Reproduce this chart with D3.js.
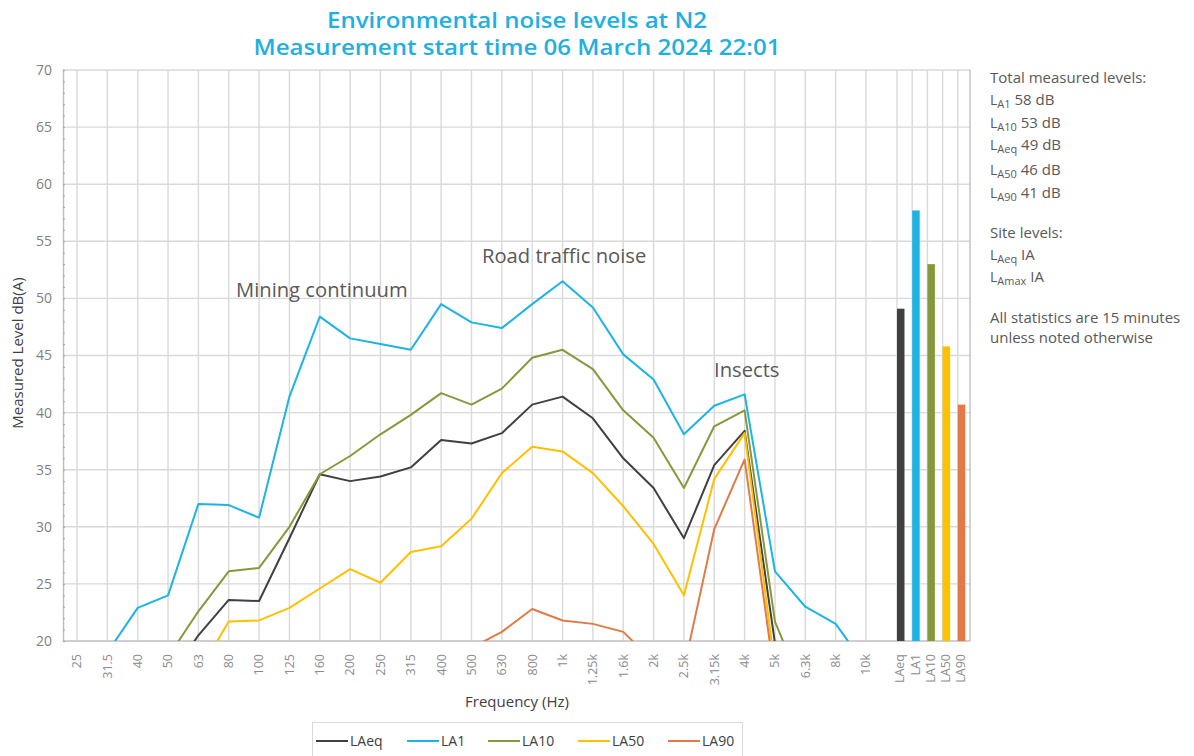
<!DOCTYPE html>
<html>
<head>
<meta charset="utf-8">
<script src="https://cdn.jsdelivr.net/npm/d3@7"></script>
<style>
  body { margin: 0; background: #fff; }
  svg { display: block; font-family: 'Open Sans', sans-serif; }
</style>
</head>
<body>
<svg id="chart" width="1194" height="756"></svg>
<script>
// one-third octave bands
const freqLabels = ['25', '31.5', '40', '50', '63', '80', '100', '125', '160', '200', '250', '315', '400',
  '500', '630', '800', '1k', '1.25k', '1.6k', '2k', '2.5k', '3.15k', '4k', '5k', '6.3k', '8k', '10k'];
const statLabels = ['LAeq', 'LA1', 'LA10', 'LA50', 'LA90'];

const laeq = [14, 14.5, 15.5, 16.6, 20.5, 23.6, 23.5, 29.0, 34.6, 34.0, 34.4, 35.2, 37.6,
  37.3, 38.2, 40.7, 41.4, 39.5, 36.0, 33.4, 29.0, 35.4, 38.4, 19.8, 15.5, 14, 12];
const la1 = [17.5, 19.0, 22.9, 24.0, 32.0, 31.9, 30.8, 41.4, 48.4, 46.5, 46.0, 45.5, 49.5,
  47.9, 47.4, 49.5, 51.5, 49.2, 45.1, 42.9, 38.1, 40.6, 41.6, 26.1, 23.0, 21.5, 17.8];
const la10 = [15, 16, 17, 18.6, 22.6, 26.1, 26.4, 30.0, 34.6, 36.2, 38.1, 39.8, 41.7,
  40.7, 42.1, 44.8, 45.5, 43.8, 40.2, 37.8, 33.4, 38.8, 40.2, 21.7, 15.3, 14.5, 13];
const la50 = [12, 13, 14, 15.5, 17.2, 21.7, 21.8, 22.9, 24.6, 26.3, 25.1, 27.8, 28.3,
  30.7, 34.7, 37.0, 36.6, 34.7, 31.8, 28.5, 24.0, 34.2, 38.2, 17.7, 12.5, 11.5, 10.5];
const la90 = [10, 10.5, 11, 11.5, 12.5, 14, 14.5, 15.5, 16.5, 17.5, 17.5, 18, 18.5,
  19.4, 20.8, 22.8, 21.8, 21.5, 20.8, 18.2, 17.6, 29.8, 35.9, 16.6, 11.5, 10.5, 9.5];

// overall levels, drawn as bars on the right
const totals = [49.1, 57.7, 53.0, 45.8, 40.7];
const yTicks = [20, 25, 30, 35, 40, 45, 50, 55, 60, 65, 70];

const seriesColors = ['#404040', '#1cb4e3', '#85993c', '#ffc000', '#e07b47'];
const series = [
  { id: 'LAeq', values: laeq },
  { id: 'LA1', values: la1 },
  { id: 'LA10', values: la10 },
  { id: 'LA50', values: la50 },
  { id: 'LA90', values: la90 }
];

const plot = { left: 63, right: 970, top: 70, bottom: 641 };
const svg = d3.select('#chart');

const x = d3.scalePoint().domain(freqLabels).range([77, 866]);
const xs = d3.scaleBand().domain(statLabels).range([897, 973]);
const y = d3.scaleLinear().domain([20, 70]).range([plot.bottom, plot.top]);
const color = d3.scaleOrdinal().domain(statLabels).range(seriesColors);

svg.append('defs').append('clipPath').attr('id', 'plot-clip')
  .append('rect')
  .attr('x', plot.left)
  .attr('y', plot.top)
  .attr('width', plot.right - plot.left)
  .attr('height', plot.bottom - plot.top);

// title
const title = svg.append('g')
  .attr('fill', '#1eb0e0')
  .attr('font-weight', 600)
  .attr('font-size', 21)
  .attr('text-anchor', 'middle');
title.append('text').attr('x', 517).attr('y', 28)
  .attr('textLength', 380).attr('lengthAdjust', 'spacingAndGlyphs')
  .text('Environmental noise levels at N2');
title.append('text').attr('x', 517).attr('y', 55)
  .attr('textLength', 527).attr('lengthAdjust', 'spacingAndGlyphs')
  .text('Measurement start time 06 March 2024 22:01');

// grid
const grid = svg.append('g').attr('stroke', '#d9d9d9').attr('stroke-width', 1.4);
grid.selectAll('.hgrid')
  .data(yTicks.slice(1))
  .enter().append('line')
  .attr('x1', plot.left).attr('x2', plot.right)
  .attr('y1', d => y(d)).attr('y2', d => y(d));
grid.selectAll('.vgrid')
  .data(freqLabels)
  .enter().append('line')
  .attr('x1', d => x(d)).attr('x2', d => x(d))
  .attr('y1', plot.top).attr('y2', plot.bottom);
grid.selectAll('.vgrid2')
  .data(statLabels)
  .enter().append('line')
  .attr('x1', d => xs(d)).attr('x2', d => xs(d))
  .attr('y1', plot.top).attr('y2', plot.bottom);

// frame
svg.append('line')
  .attr('x1', plot.right).attr('x2', plot.right)
  .attr('y1', plot.top).attr('y2', plot.bottom)
  .attr('stroke', '#c4c4c4').attr('stroke-width', 1.5);
svg.append('line')
  .attr('x1', plot.left).attr('x2', plot.right)
  .attr('y1', plot.bottom).attr('y2', plot.bottom)
  .attr('stroke', '#bfbfbf').attr('stroke-width', 1.5);

// y axis with minor ticks inside
const yAxis = svg.append('g')
  .attr('transform', `translate(${plot.left},0)`)
  .call(d3.axisRight(y).tickValues(d3.range(20, 71, 1)).tickSize(2).tickFormat(''));
yAxis.select('.domain').attr('stroke', '#bfbfbf').attr('stroke-width', 1.5);
yAxis.selectAll('.tick line').attr('stroke', '#a6a6a6');

svg.append('g')
  .attr('font-size', 14)
  .attr('fill', '#7f7f7f')
  .attr('text-anchor', 'end')
  .selectAll('text')
  .data(yTicks)
  .enter().append('text')
  .attr('x', 52)
  .attr('y', d => y(d))
  .attr('dy', '0.35em')
  .text(d => d);

svg.append('text')
  .attr('transform', 'translate(23,353) rotate(-90)')
  .attr('text-anchor', 'middle')
  .attr('font-size', 15)
  .attr('fill', '#404040')
  .text('Measured Level dB(A)');

// x labels, rotated
const xl = svg.append('g')
  .attr('font-size', 12.5)
  .attr('fill', '#8c8c8c')
  .attr('text-anchor', 'end');
xl.selectAll('.fl')
  .data(freqLabels)
  .enter().append('text')
  .attr('transform', d => `translate(${x(d)},654) rotate(-90)`)
  .attr('dy', '0.35em')
  .text(d => d);
xl.selectAll('.sl')
  .data(statLabels)
  .enter().append('text')
  .attr('transform', d => `translate(${xs(d) + 3},654) rotate(-90)`)
  .attr('dy', '0.35em')
  .text(d => d);

svg.append('text')
  .attr('x', 517).attr('y', 707)
  .attr('text-anchor', 'middle')
  .attr('font-size', 15)
  .attr('fill', '#404040')
  .text('Frequency (Hz)');

// bars for total levels
svg.append('g')
  .selectAll('rect')
  .data(statLabels)
  .enter().append('rect')
  .attr('x', d => xs(d))
  .attr('width', 7.5)
  .attr('y', (d, i) => y(totals[i]))
  .attr('height', (d, i) => plot.bottom - y(totals[i]))
  .attr('fill', d => color(d));

// spectrum lines
const line = d3.line()
  .x((d, i) => x(freqLabels[i]))
  .y(d => y(d));

svg.append('g')
  .attr('clip-path', 'url(#plot-clip)')
  .selectAll('path')
  .data(series)
  .enter().append('path')
  .attr('fill', 'none')
  .attr('stroke-width', 2)
  .attr('stroke-linejoin', 'round')
  .attr('stroke', d => color(d.id))
  .attr('d', d => line(d.values));

// annotations
const notes = [
  { text: 'Mining continuum', x: 236, y: 297 },
  { text: 'Road traffic noise', x: 482, y: 263 },
  { text: 'Insects', x: 714, y: 377 }
];
svg.append('g')
  .attr('font-size', 20.2)
  .attr('fill', '#595959')
  .selectAll('text')
  .data(notes)
  .enter().append('text')
  .attr('x', d => d.x)
  .attr('y', d => d.y)
  .text(d => d.text);

// side notes
const side = svg.append('g').attr('font-size', 15).attr('fill', '#595959');
function sideLine(yPos, main, sub, rest) {
  const t = side.append('text').attr('x', 990).attr('y', yPos);
  if (sub) {
    t.append('tspan').attr('font-size', 14).text(main);
    t.append('tspan').attr('font-size', 11).attr('dy', 3).text(sub);
    t.append('tspan').attr('dy', -3).text(' ' + rest);
  } else {
    t.text(main);
  }
}
sideLine(83, 'Total measured levels:');
sideLine(105, 'L', 'A1', '58 dB');
sideLine(128, 'L', 'A10', '53 dB');
sideLine(150, 'L', 'Aeq', '49 dB');
sideLine(175, 'L', 'A50', '46 dB');
sideLine(198, 'L', 'A90', '41 dB');
sideLine(238, 'Site levels:');
sideLine(260, 'L', 'Aeq', 'IA');
sideLine(282, 'L', 'Amax', 'IA');
sideLine(323, 'All statistics are 15 minutes');
sideLine(343, 'unless noted otherwise');

// legend
const legend = svg.append('g');
legend.append('rect')
  .attr('x', 312.5).attr('y', 722.5)
  .attr('width', 430).attr('height', 40)
  .attr('fill', '#fff')
  .attr('stroke', '#d9d9d9');
const legendX = [316, 407, 488, 578, 668];
const items = legend.selectAll('.item')
  .data(statLabels)
  .enter().append('g')
  .attr('transform', (d, i) => `translate(${legendX[i]},741)`);
items.append('line')
  .attr('x1', 0).attr('x2', 32)
  .attr('stroke', d => color(d))
  .attr('stroke-width', 2);
items.append('text')
  .attr('x', 34)
  .attr('dy', '0.35em')
  .attr('font-size', 14)
  .attr('fill', '#404040')
  .text(d => d);
</script>
</body>
</html>
